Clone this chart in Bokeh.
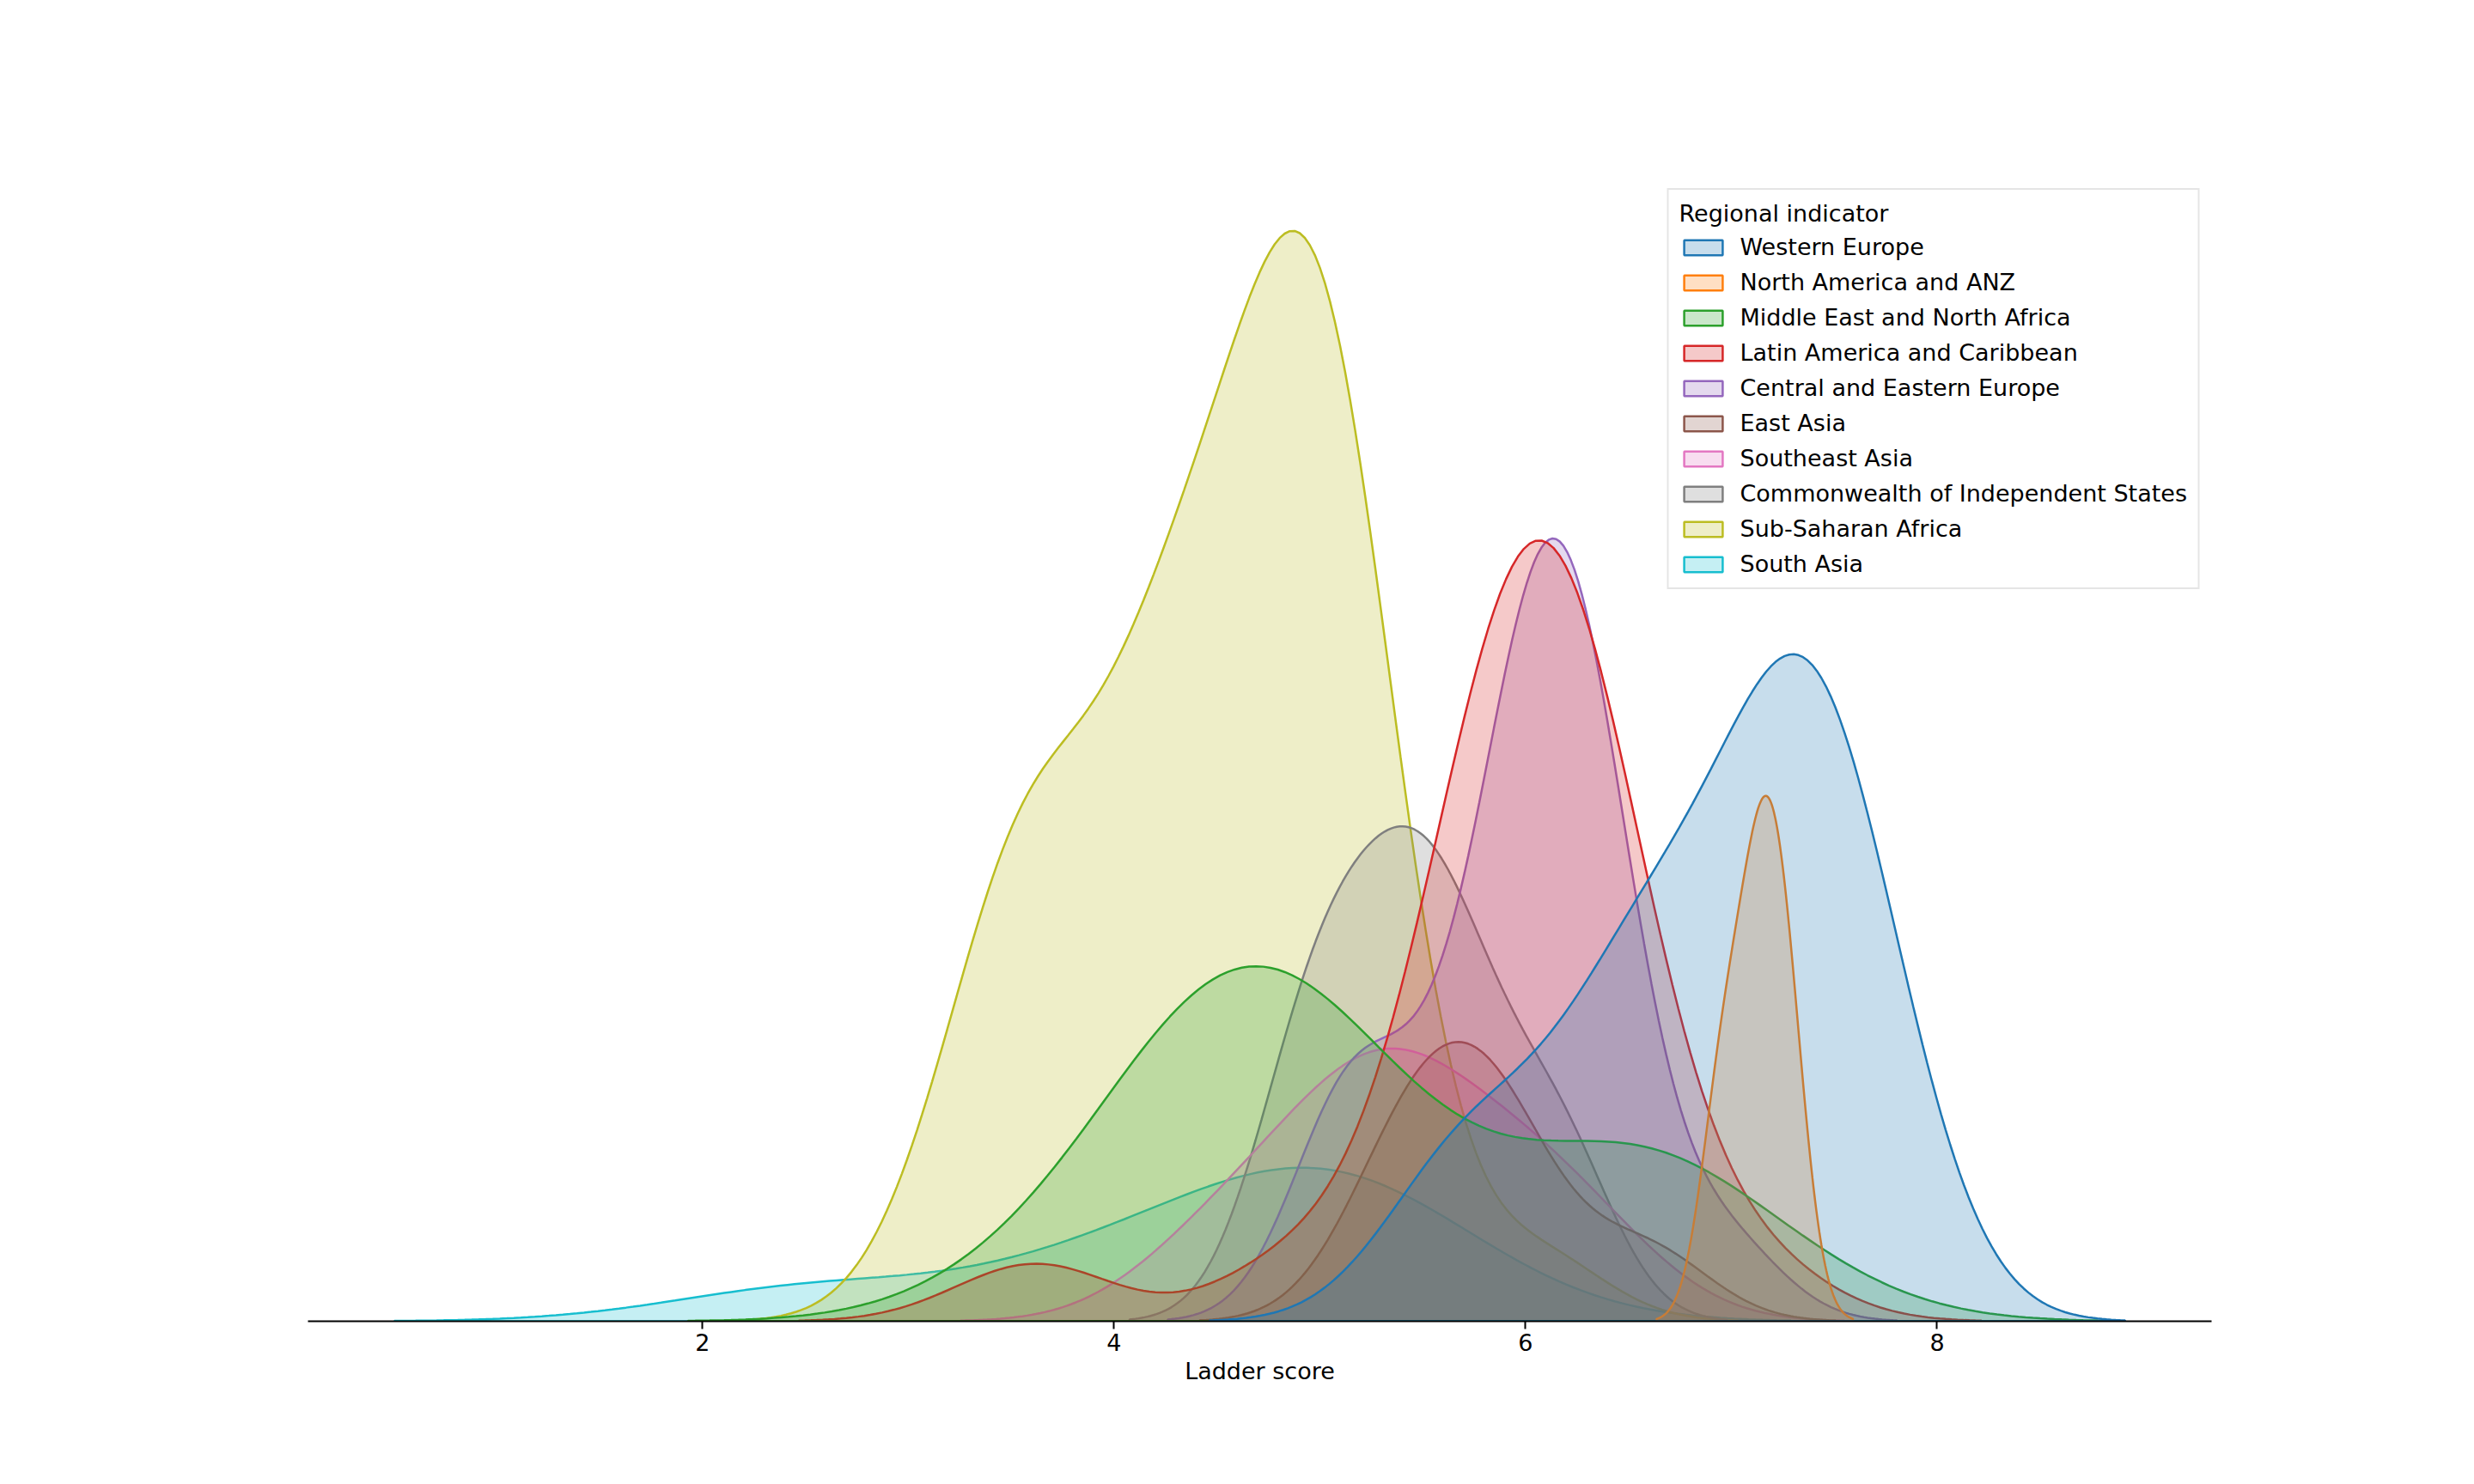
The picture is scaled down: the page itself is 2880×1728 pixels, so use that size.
import numpy as np
from bokeh.plotting import figure
from bokeh.models import Legend, LegendItem, Range1d
from bokeh.embed import file_html
from bokeh.resources import INLINE

regions = ["Western Europe", "North America and ANZ", "Middle East and North Africa",
           "Latin America and Caribbean", "Central and Eastern Europe", "East Asia",
           "Southeast Asia", "Commonwealth of Independent States", "Sub-Saharan Africa",
           "South Asia"]
colors = ["#1f77b4", "#ff7f0e", "#2ca02c", "#d62728", "#9467bd",
          "#8c564b", "#e377c2", "#7f7f7f", "#bcbd22", "#17becf"]

western_europe = [7.842, 7.620, 7.571, 7.554, 7.464, 7.392, 7.363, 7.324, 7.268, 7.155,
                  7.085, 7.064, 6.834, 6.690, 6.602, 6.491, 6.483, 6.223, 5.929, 5.723, 5.536]
north_america_anz = [7.277, 7.183, 7.103, 6.951]
mena = [7.157, 6.647, 6.561, 6.494, 6.106, 5.410, 4.948, 5.377, 4.887, 4.854, 4.721,
        4.596, 4.517, 4.283, 4.227, 4.395, 3.658]
latin_america = [7.069, 6.317, 6.330, 6.431, 6.180, 6.172, 6.435, 6.165, 5.929, 6.061,
                 5.919, 6.012, 5.764, 5.716, 5.840, 5.653, 6.309, 5.545, 4.892, 3.615]
central_eastern_europe = [6.965, 6.461, 6.372, 6.331, 6.255, 6.189, 6.166, 6.140, 6.032,
                          6.078, 5.992, 5.882, 5.813, 5.581, 5.266, 5.101, 5.117]
east_asia = [6.584, 5.940, 5.845, 5.677, 5.477, 5.339]
southeast_asia = [6.377, 5.985, 5.880, 5.411, 5.384, 5.345, 5.030, 4.830, 4.426]
cis = [6.179, 6.152, 5.766, 5.744, 5.477, 5.466, 5.283, 5.171, 5.066, 5.534, 4.891, 4.875]
sub_saharan_africa = [6.049, 5.342, 5.306, 5.142, 5.132, 5.088, 5.074, 5.051, 5.045, 4.984,
                      4.956, 4.852, 4.834, 4.794, 5.025, 4.723, 4.636, 4.625, 4.607, 4.574,
                      4.355, 4.308, 4.289, 4.275, 4.208, 4.107, 4.073, 3.849, 3.775, 3.623,
                      3.600, 3.512, 3.467, 3.415, 3.145]
south_asia = [5.269, 5.198, 5.025, 4.934, 4.325, 3.819, 2.523]

groups = [western_europe, north_america_anz, mena, latin_america, central_eastern_europe,
          east_asia, southeast_asia, cis, sub_saharan_africa, south_asia]
total = sum(len(g) for g in groups)

curves = []
for g in groups:
    d = np.array(g)
    bw = d.std(ddof=1) * len(d) ** (-1 / 5)
    xs = np.linspace(d.min() - 3 * bw, d.max() + 3 * bw, 200)
    dens = np.exp(-0.5 * ((xs[:, None] - d[None, :]) / bw) ** 2).sum(axis=1)
    dens = dens / (len(d) * bw * np.sqrt(2 * np.pi)) * len(d) / total
    curves.append((xs, dens))

xmin = min(c[0].min() for c in curves)
xmax = max(c[0].max() for c in curves)
ymax = max(c[1].max() for c in curves)
pad = (xmax - xmin) * 0.05

p = figure(width=2860, height=1710, output_backend="svg", toolbar_location=None,
           x_range=Range1d(xmin - pad, xmax + pad), y_range=Range1d(0, ymax * 1.05),
           min_border_left=358, min_border_right=286, min_border_top=205, min_border_bottom=172)
p.outline_line_color = None
p.grid.visible = False
p.yaxis.visible = False
p.xaxis.ticker = [2, 4, 6, 8]
p.xaxis.axis_label = "Ladder score"
p.xaxis.axis_label_text_font_style = "normal"
p.xaxis.axis_label_text_font = "DejaVu Sans"
p.xaxis.axis_label_text_font_size = "27px"
p.xaxis.axis_label_text_color = "black"
p.xaxis.major_label_text_font = "DejaVu Sans"
p.xaxis.major_label_text_font_size = "27px"
p.xaxis.major_label_text_color = "black"
p.xaxis.axis_line_width = 2
p.xaxis.axis_line_color = "black"
p.xaxis.major_tick_line_width = 2
p.xaxis.major_tick_line_color = "black"
p.xaxis.major_tick_out = 9
p.xaxis.major_tick_in = 0
p.xaxis.minor_tick_line_color = None

rends = {}
for name, col, (xs, dens) in reversed(list(zip(regions, colors, curves))):
    px = np.concatenate([xs, xs[::-1]])
    py = np.concatenate([dens, np.zeros_like(dens)])
    rends[name] = p.patch(px, py, fill_color=col, fill_alpha=0.25, line_color=col, line_width=2.5)
items = [LegendItem(label=name, renderers=[rends[name]]) for name in regions]

legend = Legend(items=items, location="top_right", title="Regional indicator")
legend.title_text_font = "DejaVu Sans"
legend.title_text_font_size = "27px"
legend.title_text_font_style = "normal"
legend.title_text_color = "black"
legend.label_text_font = "DejaVu Sans"
legend.label_text_font_size = "27px"
legend.label_text_color = "black"
legend.glyph_width = 56
legend.glyph_height = 22
legend.label_height = 22
legend.spacing = 10
legend.padding = 12
legend.margin = 14
legend.border_line_color = "#cccccc"
legend.border_line_width = 2
legend.title_standoff = 8
legend.label_standoff = 15
p.add_layout(legend)

open("out.html", "w").write(file_html(p, INLINE))
